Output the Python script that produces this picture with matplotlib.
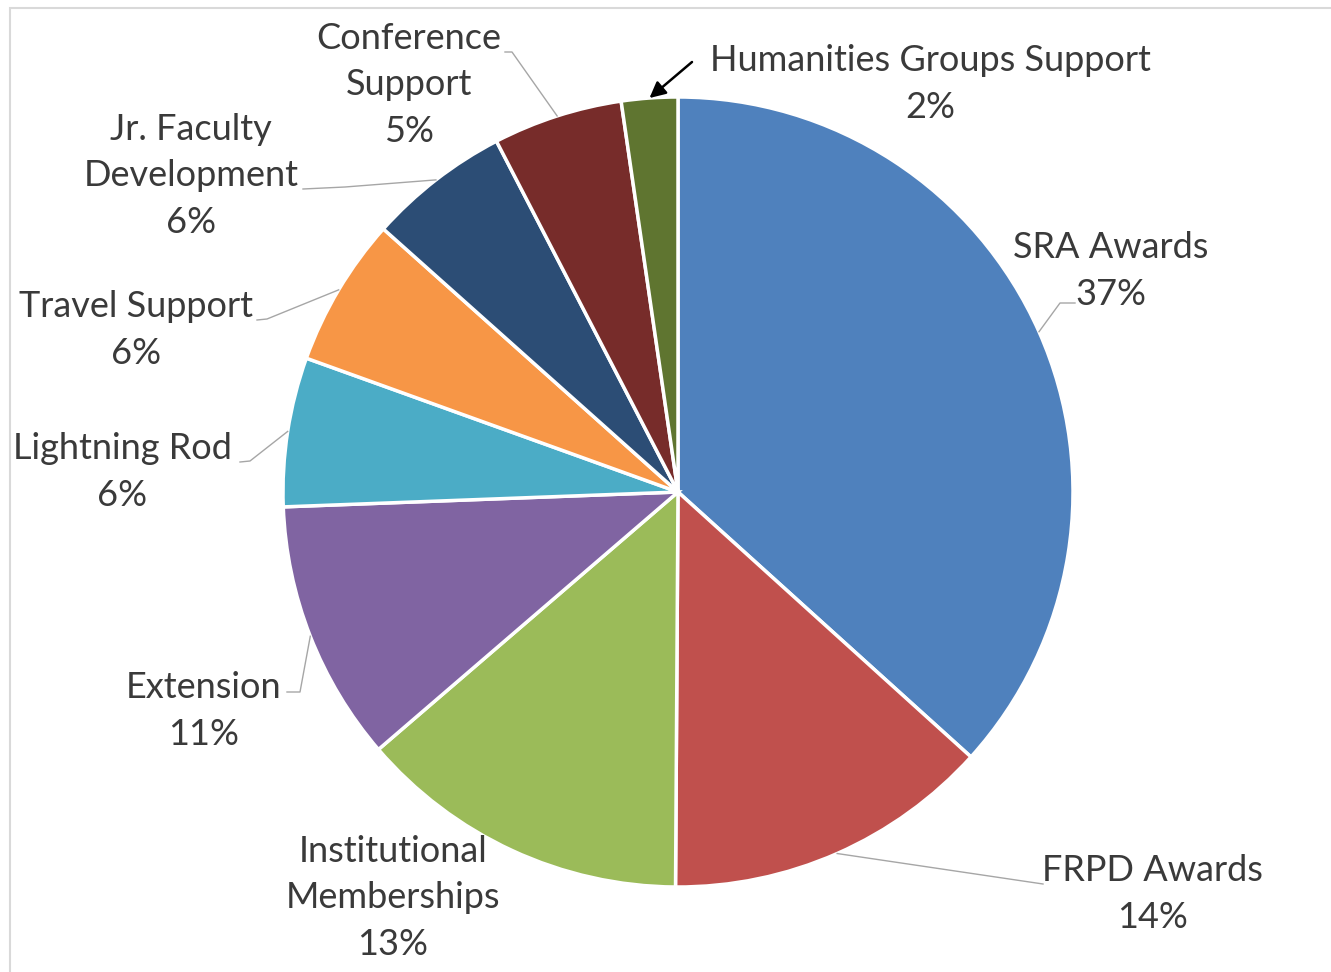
import numpy as np
import matplotlib.pyplot as plt
from matplotlib.patches import Rectangle

# slice shares (%), clockwise from 12 o'clock
labels = ['SRA Awards', 'FRPD Awards', 'Institutional\nMemberships', 'Extension',
          'Lightning Rod', 'Travel Support', 'Jr. Faculty\nDevelopment',
          'Conference\nSupport', 'Humanities Groups Support']
values = [36.7, 13.4, 13.6, 10.7, 6.1, 6.1, 5.8, 5.3, 2.3]
pct_text = ['37%', '14%', '13%', '11%', '6%', '6%', '6%', '5%', '2%']
colors = ['#4F81BD', '#C0504D', '#9BBB59', '#8064A2', '#4BACC6',
          '#F79646', '#2C4D75', '#772C2A', '#5F7530']

W, H = 1331, 972
fig = plt.figure(figsize=(W / 100, H / 100), dpi=100)
ax = fig.add_axes([0, 0, 1, 1])

cx, cy, r = 678, H - 492, 395
wedges, _ = ax.pie(values, colors=colors, startangle=90, counterclock=False,
                   center=(cx, cy), radius=r, frame=True,
                   wedgeprops=dict(edgecolor='white', linewidth=2.5))
ax.set_xlim(0, W)
ax.set_ylim(0, H)
ax.set_aspect('equal')
ax.axis('off')

# label block centres and leader line anchors (image pixels, y down)
label_pos = [(1111, 271), (1152, 894), (393, 898), (204, 711), (122, 472),
             (136, 330), (191, 176), (409, 85), (930, 84)]
leader_end = [[(1075, 303), (1060, 303)], [(1043, 884), (1043, 884)], None,
              [(287, 692), (300, 692)], [(240, 462), (250, 461)],
              [(257, 320), (267, 319)], [(303, 189), (345, 187)],
              [(505, 52), (512, 52)], None]

txt_color = '#3a3a3a'
for i, w in enumerate(wedges):
    x, y = label_pos[i]
    ax.text(x, H - y, labels[i] + '\n' + pct_text[i], ha='center', va='center',
            fontsize=26, family='Lato', color=txt_color, linespacing=1.5)
    if leader_end[i] is not None:
        mid = np.deg2rad((w.theta1 + w.theta2) / 2)
        px, py = cx + r * np.cos(mid), cy + r * np.sin(mid)
        (ax0, ay0), (ax1, ay1) = leader_end[i]
        ax.plot([ax0, ax1, px], [H - ay0, H - ay1, py], color='#a6a6a6', lw=1)

# arrow pointing at the small slice
hum = wedges[-1]
mid = np.deg2rad((hum.theta1 + hum.theta2) / 2)
ax.annotate('', xy=(cx + r * np.cos(mid), cy + r * np.sin(mid)),
            xytext=(692, H - 62),
            arrowprops=dict(arrowstyle='-|>', color='black', lw=1.8,
                            mutation_scale=24, shrinkA=0, shrinkB=0))

fig.patches.append(Rectangle((10 / W, -0.1), 1.2, 1.1 - 8 / H, transform=fig.transFigure,
                             fill=False, edgecolor='#d9d9d9', lw=1.5))

fig.savefig('out.png', dpi=100)
